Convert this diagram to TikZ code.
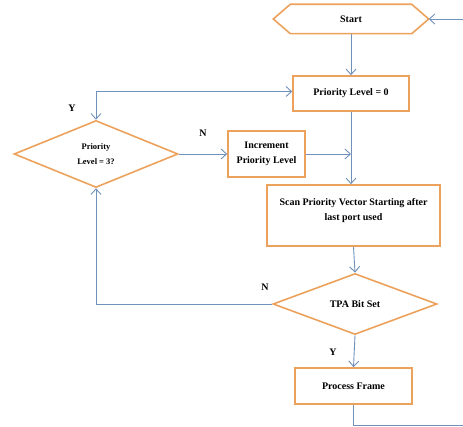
\documentclass[tikz,border=0pt]{standalone}
\usepackage{fontspec}
\setmainfont{Liberation Serif}
\usetikzlibrary{shapes.geometric,arrows.meta}
\definecolor{boxor}{RGB}{236,162,92}
\definecolor{lineblue}{RGB}{112,146,186}
\begin{document}
\begin{tikzpicture}[x=1pt,y=-1pt,
  every node/.style={font=\fontsize{10}{15}\selectfont\bfseries},
  procbox/.style={draw=boxor,line width=1.6pt,fill=white,rectangle,inner sep=1pt,align=center},
  decbox/.style={draw=boxor,line width=1.6pt,fill=white,diamond,inner sep=0pt,align=center},
  conn/.style={draw=lineblue,line width=0.9pt,-{Straight Barb[length=5.5pt,width=10pt]}},
  plain/.style={draw=lineblue,line width=0.9pt},
  lbl/.style={font=\fontsize{10}{12}\selectfont\bfseries}]
\useasboundingbox (0,0) rectangle (463,427);
% Start terminal
\node[minimum width=121pt,minimum height=29pt,inner sep=0pt] (start) at (351,19) {Start};
\coordinate (startL) at ([xshift=-17pt]start.west);
\coordinate (startR) at ([xshift=17pt]start.east);
\draw[draw=boxor,line width=1.6pt,line join=miter] (startL) -- (start.north west) -- (start.north east) -- (startR) -- (start.south east) -- (start.south west) -- cycle;
% boxes
\node[procbox,minimum width=116pt,minimum height=35pt] (p0) at (351,93.5) {Priority Level = 0};
\node[procbox,minimum width=77pt,minimum height=46pt] (inc) at (266.5,154) {Increment\\Priority Level};
\node[procbox,minimum width=173pt,minimum height=61pt] (scan) at (353.5,215.5) {Scan Priority Vector Starting after\\last port used\\[-7pt]\strut};
\node[procbox,minimum width=117pt,minimum height=36pt] (proc) at (353.5,386) {Process Frame};
% decisions
\node[decbox,minimum width=164pt,minimum height=67pt,font=\fontsize{8.5}{15}\selectfont\bfseries] (d1) at (96,154) {Priority\\Level = 3?};
\node[decbox,minimum width=164pt,minimum height=61pt] (tpa) at (355,304) {TPA Bit Set};
% free ends
\coordinate (outA) at (463,19);
\coordinate (outB) at (463,425);
% connectors
\draw[conn] (outA) -- (startR);
\draw[conn] (start.south) -- (p0.north);
\draw[conn] (p0.south) -- (p0.south |- scan.north);
\draw[conn] (inc.east) -- (inc.east -| p0.south);
\draw[conn] (d1.east) -- (inc.west);
\draw[conn,{Straight Barb[length=5.5pt,width=10pt]}-{Straight Barb[length=5.5pt,width=10pt]}] (d1.north) |- ([yshift=2pt]p0.west);
\draw[conn] (scan.south) -- (tpa.north);
\draw[conn] (tpa.west) -| (d1.south);
\draw[conn] (tpa.south) -- (proc.north);
\draw[plain] (proc.south) |- (outB);
% labels
\node[lbl] (ly1) at (72,108) {Y};
\node[lbl] (ln1) at (203,133) {N};
\node[lbl] (ln2) at (265,287) {N};
\node[lbl] (ly2) at (333,352) {Y};
\end{tikzpicture}
\end{document}
